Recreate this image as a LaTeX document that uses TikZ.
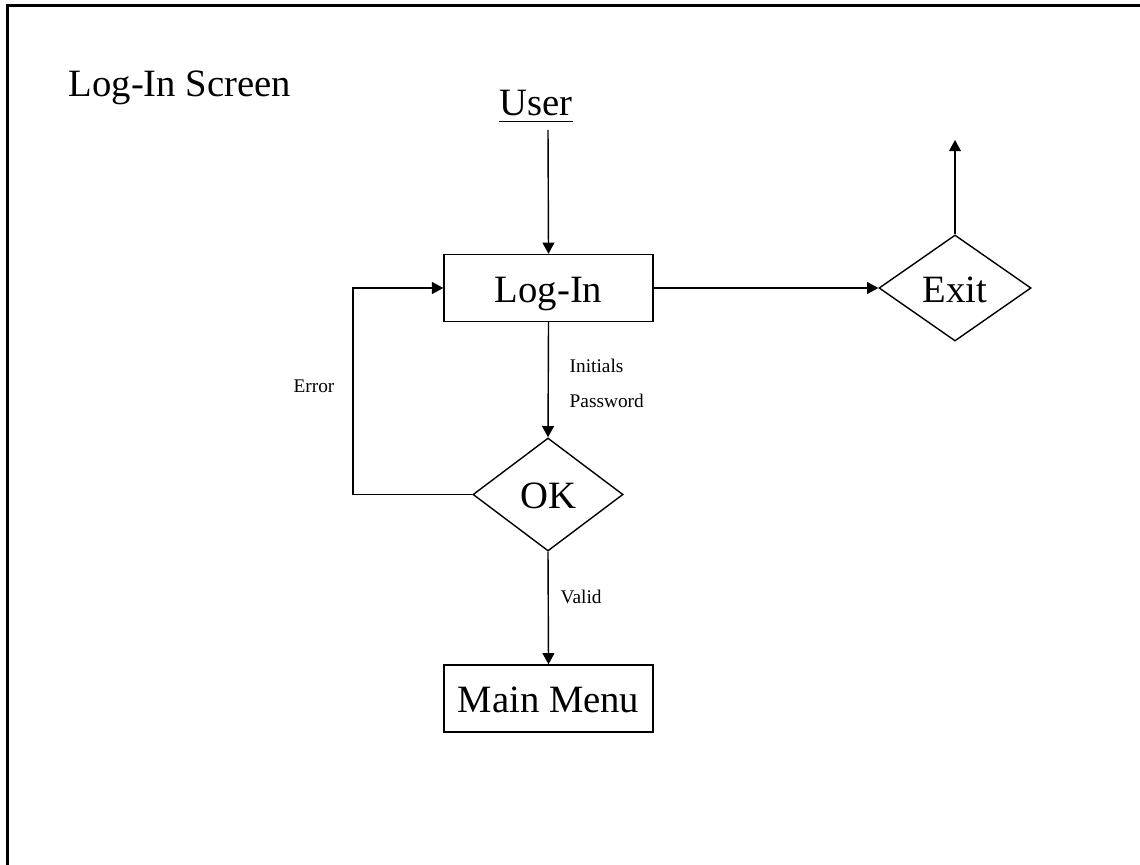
\documentclass[tikz,border=0pt]{standalone}
\usepackage{fontspec}
\setmainfont{Liberation Serif}
\usetikzlibrary{shapes.geometric,arrows.meta}
\begin{document}
\begin{tikzpicture}[x=0.01cm,y=-0.01cm,
  big/.style={font=\fontsize{11}{13}\selectfont},
  small/.style={font=\fontsize{5.5}{7}\selectfont, inner sep=0pt},
  box/.style={draw, line width=0.4pt, big, minimum width=2.09cm, minimum height=0.67cm, inner sep=0pt, text height=8.2pt, text depth=0pt},
  dia/.style={draw, diamond, line width=0.4pt, big, inner sep=0pt, text height=8.2pt, text depth=0pt},
  arr/.style={line width=0.4pt, -{Triangle[length=3.2pt,width=3.4pt]}},
  frame/.style={line width=0.65pt}]
\useasboundingbox (0,0) rectangle (1140,864);
\fill[white] (0,0) rectangle (1140,864);
\draw[frame] (7.5,880) -- (7.5,5.5) -- (1160,5.5);

\node[big, anchor=base west, inner sep=0pt] (title) at (68,97) {Log-In Screen};
\node[big, anchor=base, inner sep=0pt] (user) at (536,116) {\underline{User}};
\coordinate (ustart) at (548,130);

\node[box] (login) at (548.5,288) {Log-In};
\node[dia, minimum width=1.52cm, minimum height=1.06cm] (exit) at (955,288) {Exit};
\coordinate (exitend) at (955,140);
\node[dia, minimum width=1.50cm, minimum height=1.13cm] (ok) at (548,494.5) {OK};
\node[box] (menu) at (548.5,698.5) {Main Menu};

\node[small, anchor=base west] (initials) at (569,372) {Initials};
\node[small, anchor=base west] (password) at (569,407) {Password};
\node[small, anchor=base] (error) at (314,392) {Error};
\node[small, anchor=base west] (valid) at (560,603) {Valid};

\coordinate (lc) at (353,494.5);
\coordinate (lt) at (353,288);

\draw[arr] (ustart) -- (login.north);
\draw[arr] (login.east) -- (exit.west);
\draw[arr] (exit.north) -- (exitend);
\draw[arr] (login.south) -- (ok.north);
\draw[arr] (ok.west) -- (lc) -- (lt) -- (login.west);
\draw[arr] (ok.south) -- (menu.north);
\end{tikzpicture}
\end{document}
